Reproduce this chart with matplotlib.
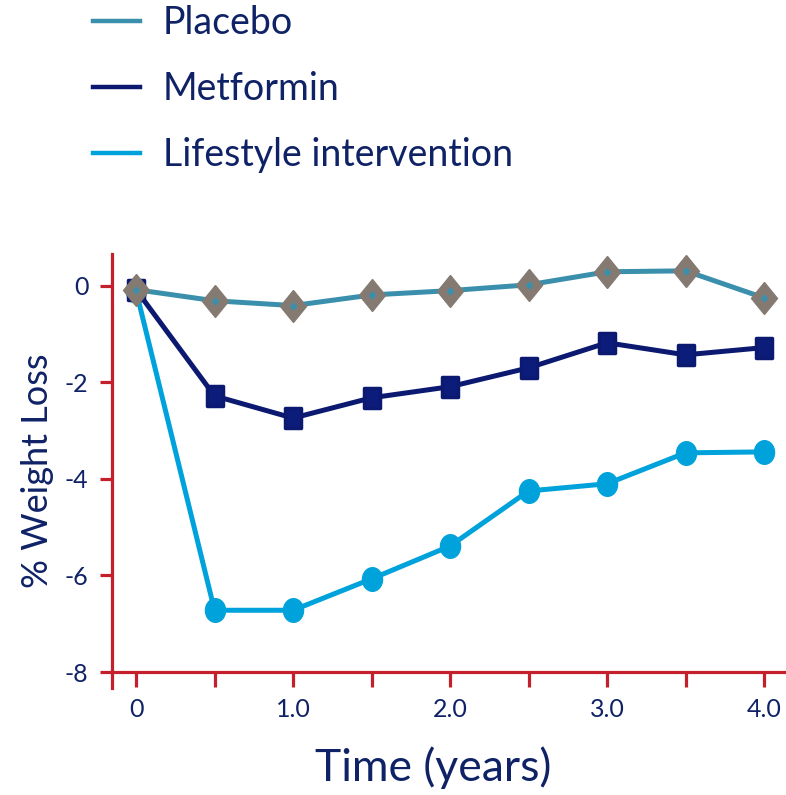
import matplotlib.pyplot as plt
from matplotlib.lines import Line2D
from matplotlib.markers import MarkerStyle
from matplotlib.transforms import Affine2D

plt.rcParams['font.family'] = ['Lato', 'DejaVu Sans']

# --- data ---
years = [0, 0.5, 1.0, 1.5, 2.0, 2.5, 3.0, 3.5, 4.0]
placebo = [-0.08, -0.31, -0.41, -0.19, -0.10, 0.02, 0.29, 0.31, -0.25]
metformin = [-0.08, -2.28, -2.74, -2.32, -2.09, -1.70, -1.18, -1.43, -1.28]
lifestyle = [-0.10, -6.72, -6.72, -6.07, -5.39, -4.25, -4.10, -3.46, -3.44]

series_names = ['Placebo', 'Metformin', 'Lifestyle intervention']
y_ticks = [0, -2, -4, -6, -8]
x_major = [0, 1.0, 2.0, 3.0, 4.0]
x_major_labels = ['0', '1.0', '2.0', '3.0', '4.0']
x_minor = [0.5, 1.5, 2.5, 3.5]

c_placebo = '#3A90AC'
c_diamond = '#857A72'
c_metformin = '#0B1A70'
c_lifestyle = '#00A2DB'
c_text = '#0F2266'
c_axis = '#C3202C'

fig = plt.figure(figsize=(7.86, 7.95), dpi=100)
ax = fig.add_axes([0.1425, 0.1346, 0.8575, 0.546])

# markers are a bit taller than wide in the original
tall_circle = MarkerStyle('o', transform=Affine2D().scale(0.85, 1.0))
tall_square = MarkerStyle('s', joinstyle='round', transform=Affine2D().scale(0.8, 1.0))
tall_diamond = MarkerStyle('D', transform=Affine2D().scale(0.8, 1.0))

# lifestyle first so placebo sits on top at year 0
ax.plot(years, lifestyle, color=c_lifestyle, lw=3.6, marker=tall_circle, ms=17,
        mfc=c_lifestyle, mec=c_lifestyle, zorder=3)

ax.plot(years, metformin, color=c_metformin, lw=3.6, marker=tall_square, ms=15,
        mfc='#0C1C7A', mec=c_metformin, mew=2.5, zorder=4)

ax.plot(years, placebo, color=c_placebo, lw=3.6, marker=tall_diamond, ms=16,
        mfc=c_diamond, mec=c_diamond, zorder=5)
ax.plot(years, placebo, ls='none', marker=tall_diamond, ms=3.5, mfc=c_placebo,
        mec=c_placebo, zorder=6)

ax.set_xlim(-0.153, 4.14)
ax.set_ylim(-8.33, 0.66)

for s in ['top', 'right']:
    ax.spines[s].set_visible(False)
for s in ['left', 'bottom']:
    ax.spines[s].set_color(c_axis)
    ax.spines[s].set_linewidth(2.3)
ax.spines['bottom'].set_position(('data', -8))

ax.set_yticks(y_ticks)
ax.set_yticklabels([str(v) for v in y_ticks])
ax.set_xticks(x_major)
ax.set_xticklabels(x_major_labels)
ax.set_xticks(x_minor, minor=True)

ax.tick_params(axis='y', which='both', length=9, width=2.3, color=c_axis,
               labelcolor=c_text, labelsize=18, pad=8)
ax.tick_params(axis='x', which='both', length=11, width=2.3, color=c_axis,
               labelcolor=c_text, labelsize=18, pad=8)

ax.set_ylabel('% Weight Loss', fontsize=26, color=c_text, labelpad=8)
ax.set_xlabel('Time (years)', fontsize=32, color=c_text, labelpad=18, x=0.476)

handles = [Line2D([], [], color=c, lw=3.2) for c in (c_placebo, c_metformin, c_lifestyle)]
leg = fig.legend(handles, series_names, loc='upper left',
                 bbox_to_anchor=(0.076, 1.036), frameon=False, fontsize=27,
                 labelspacing=0.8, handlelength=1.25, handletextpad=0.6)
for t in leg.get_texts():
    t.set_color(c_text)

fig.savefig('out.png', dpi=100)
